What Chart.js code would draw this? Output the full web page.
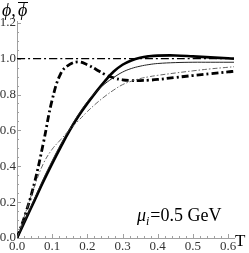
<!DOCTYPE html>
<html><head><meta charset="utf-8">
<script src="https://cdn.jsdelivr.net/npm/chart.js@4"></script>
<style>html,body{margin:0;padding:0;background:#fff}</style>
</head><body>
<canvas id="c" width="249" height="253"></canvas>
<script>
// Temperature grid (GeV)
const temperature = [0,0.025,0.05,0.075,0.1,0.125,0.15,0.175,0.2,0.225,0.25,0.275,0.3,0.325,0.35,0.375,0.4,0.45,0.5,0.55,0.6,0.617];
// thick solid curve
const phiThickSolid = [0,0.105,0.21,0.315,0.415,0.51,0.6,0.68,0.75,0.815,0.875,0.928,0.966,0.99,1.005,1.013,1.017,1.018,1.013,1.007,1.002,1.0];
// thin solid curve
const phiThinSolid = [0,0.11,0.22,0.33,0.43,0.525,0.61,0.69,0.76,0.815,0.86,0.895,0.925,0.945,0.958,0.967,0.973,0.978,0.98,0.98,0.98,0.98];
// thin dash-dot curve
const phiThinDashDot = [0,0.145,0.29,0.415,0.495,0.55,0.605,0.655,0.705,0.75,0.79,0.825,0.855,0.874,0.889,0.899,0.907,0.92,0.932,0.943,0.952,0.955];
// thick dash-dot curve
const phiThickDashDot = [0,0.14,0.31,0.53,0.77,0.92,0.968,0.982,0.966,0.94,0.912,0.893,0.882,0.878,0.878,0.88,0.884,0.895,0.906,0.916,0.926,0.93];
// reference level
const refT = [0,0.617];
const refLevel = [1,1];
const xTickValues = [0,0.1,0.2,0.3,0.4,0.5,0.6];
const yTickValues = [0,0.2,0.4,0.6,0.8,1.0,1.2];

const pts = (xs, ys) => xs.map((x,i)=>({x:x,y:ys[i]}));
const serif = "'Liberation Serif','DejaVu Serif',serif";

const minorTicks = {
  id:'minorTicks',
  beforeDatasetsDraw(chart){
    const {ctx, scales:{x,y}} = chart;
    ctx.save();
    ctx.strokeStyle = '#a0a0a0';
    ctx.lineWidth = 1;
    const y0 = y.getPixelForValue(0);
    const x0 = x.getPixelForValue(0);
    for (let i=0;i<=30;i++){
      const v = i*0.02;
      const px = Math.round(x.getPixelForValue(v))+0.5;
      const len = (i%5===0)?4:2;
      ctx.beginPath(); ctx.moveTo(px,y0); ctx.lineTo(px,y0-len); ctx.stroke();
    }
    for (let i=0;i<=24;i++){
      const v = i*0.05;
      const py = Math.round(y.getPixelForValue(v))+0.5;
      const len = (i%4===0)?4:2;
      ctx.beginPath(); ctx.moveTo(x0,py); ctx.lineTo(x0+len,py); ctx.stroke();
    }
    ctx.restore();
  }
};

const labels = {
  id:'labels',
  afterDraw(chart){
    const ctx = chart.ctx;
    ctx.save();
    ctx.fillStyle = '#000';
    ctx.textBaseline = 'alphabetic';
    // axis title T
    ctx.font = "17px " + serif;
    ctx.fillText('T', 235, 246);
    // y title
    ctx.font = "italic 18px " + serif;
    ctx.fillText('\u03D5,', 2, 16);
    ctx.fillText('\u03D5', 18, 16);
    ctx.lineWidth = 1;
    ctx.strokeStyle = '#000';
    ctx.beginPath(); ctx.moveTo(18,2.5); ctx.lineTo(28,2.5); ctx.stroke();
    // annotation
    ctx.font = "italic 18px " + serif;
    ctx.fillText('\u03BC', 137, 221);
    let w = ctx.measureText('\u03BC').width;
    ctx.font = "italic 12px " + serif;
    ctx.fillText('i', 137+w, 225);
    let w2 = ctx.measureText('i').width;
    ctx.font = "18px " + serif;
    ctx.fillText('=0.5 GeV', 137+w+w2+1, 221);
    ctx.restore();
  }
};

new Chart(document.getElementById('c'), {
  type:'line',
  data:{
    datasets:[
      {data:pts(refT,refLevel), borderColor:'#000', borderWidth:1.2, borderDash:[8,3,2,3]},
      {data:pts(temperature,phiThinDashDot), borderColor:'#555', borderWidth:0.9, borderDash:[5,2,1.5,2]},
      {data:pts(temperature,phiThinSolid), borderColor:'#222', borderWidth:1},
      {data:pts(temperature,phiThickSolid), borderColor:'#000', borderWidth:2.6},
      {data:pts(temperature,phiThickDashDot), borderColor:'#000', borderWidth:2.8, borderDash:[7,3,2,3]}
    ]
  },
  options:{
    responsive:false,
    animation:false,
    devicePixelRatio:1,
    layout:{padding:{top:21,right:15,left:0,bottom:0}},
    elements:{point:{radius:0}, line:{tension:0.4, fill:false}},
    plugins:{legend:{display:false}, tooltip:{enabled:false}},
    scales:{
      x:{type:'linear', min:0, max:0.617,
         afterFit(s){s.height=15;},
         afterBuildTicks(s){s.ticks = xTickValues.map(v=>({value:v}));},
         ticks:{callback:v=>v.toFixed(1), font:{family:serif,size:13}, color:'#333', padding:1, maxRotation:0, autoSkip:false},
         grid:{display:false, drawTicks:false},
         border:{display:true, color:'#a0a0a0', width:1}},
      y:{type:'linear', min:0, max:1.21,
         afterFit(s){s.width=17;},
         afterBuildTicks(s){s.ticks = yTickValues.map(v=>({value:v}));},
         ticks:{callback:v=>v.toFixed(1), font:{family:serif,size:13}, color:'#333', padding:1, autoSkip:false},
         grid:{display:false, drawTicks:false},
         border:{display:true, color:'#a0a0a0', width:1}}
    }
  },
  plugins:[minorTicks, labels]
});
</script>
</body></html>
